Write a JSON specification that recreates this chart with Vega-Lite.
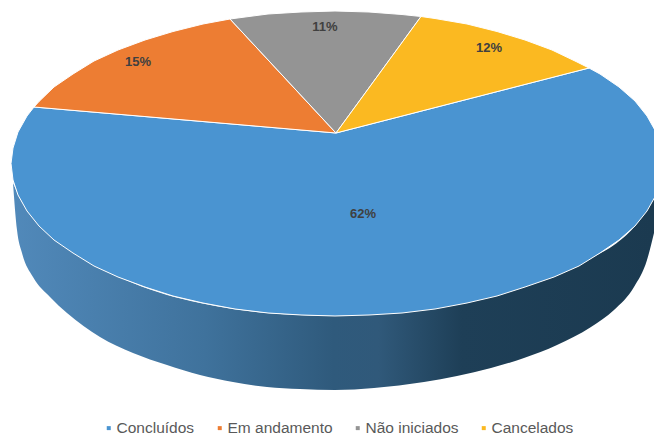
{"$schema":"https://vega.github.io/schema/vega-lite/v6.json","width":654,"height":435,"padding":0,"autosize":{"type":"none"},"background":"white","view":{"stroke":null},
"datasets":{
"side":[{"px":13,"top":183,"bottom":183},{"px":17,"top":192,"bottom":230},{"px":22,"top":202,"bottom":253},{"px":33,"top":213,"bottom":277},{"px":50,"top":230,"bottom":297},{"px":67,"top":245,"bottom":313},{"px":100,"top":267,"bottom":337},{"px":133,"top":283,"bottom":353},{"px":167,"top":295,"bottom":365},{"px":200,"top":303,"bottom":375},{"px":233,"top":309,"bottom":382},{"px":267,"top":313,"bottom":387},{"px":300,"top":315,"bottom":389},{"px":335,"top":316,"bottom":390},{"px":374,"top":313,"bottom":388},{"px":424,"top":307,"bottom":382},{"px":457,"top":302,"bottom":376},{"px":491,"top":295,"bottom":368},{"px":524,"top":285,"bottom":358},{"px":557,"top":273,"bottom":345},{"px":591,"top":258,"bottom":327},{"px":614,"top":245,"bottom":310},{"px":634,"top":227,"bottom":287},{"px":647,"top":208,"bottom":260},{"px":654,"top":197,"bottom":233}],
"slices":[
{"slice":"Concluídos","i":0,"px":336,"py":133},{"slice":"Concluídos","i":1,"px":589,"py":68},{"slice":"Concluídos","i":2,"px":600,"py":74},{"slice":"Concluídos","i":3,"px":619,"py":87},{"slice":"Concluídos","i":4,"px":635,"py":101},{"slice":"Concluídos","i":5,"px":647,"py":116},{"slice":"Concluídos","i":6,"px":656,"py":132},{"slice":"Concluídos","i":7,"px":661,"py":148},{"slice":"Concluídos","i":8,"px":663,"py":163.5},{"slice":"Concluídos","i":9,"px":661,"py":180},{"slice":"Concluídos","i":10,"px":656,"py":195},{"slice":"Concluídos","i":11,"px":647,"py":211},{"slice":"Concluídos","i":12,"px":635,"py":226},{"slice":"Concluídos","i":13,"px":619,"py":240},{"slice":"Concluídos","i":14,"px":600,"py":253},{"slice":"Concluídos","i":15,"px":579,"py":266},{"slice":"Concluídos","i":16,"px":554,"py":277},{"slice":"Concluídos","i":17,"px":525,"py":287},{"slice":"Concluídos","i":18,"px":497,"py":296},{"slice":"Concluídos","i":19,"px":467,"py":303},{"slice":"Concluídos","i":20,"px":435,"py":309},{"slice":"Concluídos","i":21,"px":402,"py":313},{"slice":"Concluídos","i":22,"px":369,"py":315},{"slice":"Concluídos","i":23,"px":335,"py":316},{"slice":"Concluídos","i":24,"px":301,"py":315},{"slice":"Concluídos","i":25,"px":268,"py":313},{"slice":"Concluídos","i":26,"px":235,"py":309},{"slice":"Concluídos","i":27,"px":203,"py":303},{"slice":"Concluídos","i":28,"px":173,"py":296},{"slice":"Concluídos","i":29,"px":145,"py":287},{"slice":"Concluídos","i":30,"px":118,"py":277},{"slice":"Concluídos","i":31,"px":94,"py":266},{"slice":"Concluídos","i":32,"px":73,"py":253},{"slice":"Concluídos","i":33,"px":54,"py":240},{"slice":"Concluídos","i":34,"px":39,"py":226},{"slice":"Concluídos","i":35,"px":27,"py":211},{"slice":"Concluídos","i":36,"px":18,"py":195},{"slice":"Concluídos","i":37,"px":13,"py":180},{"slice":"Concluídos","i":38,"px":11,"py":163.5},{"slice":"Concluídos","i":39,"px":13,"py":148},{"slice":"Concluídos","i":40,"px":18,"py":132},{"slice":"Concluídos","i":41,"px":27,"py":116},{"slice":"Concluídos","i":42,"px":34,"py":107},{"slice":"Concluídos","i":43,"px":336,"py":133},
{"slice":"Em andamento","i":0,"px":336,"py":133},{"slice":"Em andamento","i":1,"px":34,"py":107},{"slice":"Em andamento","i":2,"px":39,"py":101.5},{"slice":"Em andamento","i":3,"px":54,"py":87},{"slice":"Em andamento","i":4,"px":73,"py":74},{"slice":"Em andamento","i":5,"px":94,"py":61},{"slice":"Em andamento","i":6,"px":118,"py":50},{"slice":"Em andamento","i":7,"px":145,"py":40},{"slice":"Em andamento","i":8,"px":173,"py":31.5},{"slice":"Em andamento","i":9,"px":203,"py":24},{"slice":"Em andamento","i":10,"px":230,"py":19},{"slice":"Em andamento","i":11,"px":336,"py":133},
{"slice":"Não iniciados","i":0,"px":336,"py":133},{"slice":"Não iniciados","i":1,"px":230,"py":19},{"slice":"Não iniciados","i":2,"px":268,"py":14},{"slice":"Não iniciados","i":3,"px":301,"py":12},{"slice":"Não iniciados","i":4,"px":335,"py":11},{"slice":"Não iniciados","i":5,"px":369,"py":12},{"slice":"Não iniciados","i":6,"px":402,"py":14.5},{"slice":"Não iniciados","i":7,"px":421,"py":16.5},{"slice":"Não iniciados","i":8,"px":336,"py":133},
{"slice":"Cancelados","i":0,"px":336,"py":133},{"slice":"Cancelados","i":1,"px":421,"py":16.5},{"slice":"Cancelados","i":2,"px":435,"py":18.5},{"slice":"Cancelados","i":3,"px":467,"py":24},{"slice":"Cancelados","i":4,"px":497,"py":31.5},{"slice":"Cancelados","i":5,"px":525,"py":40},{"slice":"Cancelados","i":6,"px":552,"py":50},{"slice":"Cancelados","i":7,"px":576,"py":61.5},{"slice":"Cancelados","i":8,"px":589,"py":68},{"slice":"Cancelados","i":9,"px":336,"py":133}],
"labels":[{"slice":"Concluídos","share":"62%","px":363,"py":214},{"slice":"Em andamento","share":"15%","px":138,"py":62},{"slice":"Não iniciados","share":"11%","px":325,"py":27},{"slice":"Cancelados","share":"12%","px":489,"py":48}]},
"layer":[
{"data":{"name":"side"},"mark":{"type":"area","clip":true,"orient":"vertical","interpolate":"monotone","fill":{"gradient":"linear","x1":0,"y1":0,"x2":1,"y2":0,"stops":[{"offset":0,"color":"#5189BA"},{"offset":0.3,"color":"#3F729C"},{"offset":0.5,"color":"#2F5A7C"},{"offset":0.57,"color":"#30597A"},{"offset":0.7,"color":"#1E3F57"},{"offset":1,"color":"#1B3A50"}]}},
"encoding":{"x":{"field":"px","type":"quantitative","scale":{"domain":[0,654]},"axis":null},"y":{"field":"top","type":"quantitative","scale":{"domain":[435,0]},"axis":null},"y2":{"field":"bottom"}}},
{"data":{"name":"slices"},"mark":{"type":"line","filled":true,"clip":true,"stroke":"white","strokeWidth":1,"strokeJoin":"round"},
"encoding":{"x":{"field":"px","type":"quantitative","scale":{"domain":[0,654]},"axis":null},"y":{"field":"py","type":"quantitative","scale":{"domain":[435,0]},"axis":null},"order":{"field":"i","type":"quantitative"},
"fill":{"field":"slice","type":"nominal","scale":{"domain":["Concluídos","Em andamento","Não iniciados","Cancelados"],"range":["#4A94D1","#ED7D33","#949494","#FBB921"]},
"legend":{"title":null,"orient":"none","direction":"horizontal","legendX":101,"legendY":420,"symbolType":"square","symbolSize":16,"symbolStrokeWidth":0,"labelFont":"Liberation Sans","labelFontSize":15.5,"labelColor":"#595959","labelOffset":0,"columnPadding":17}}}},
{"data":{"name":"labels"},"mark":{"type":"text","font":"Liberation Sans","fontWeight":"bold","fontSize":13,"color":"#404040","align":"center","baseline":"middle"},
"encoding":{"x":{"field":"px","type":"quantitative","scale":{"domain":[0,654]},"axis":null},"y":{"field":"py","type":"quantitative","scale":{"domain":[435,0]},"axis":null},"text":{"field":"share","type":"nominal"}}}
]}
